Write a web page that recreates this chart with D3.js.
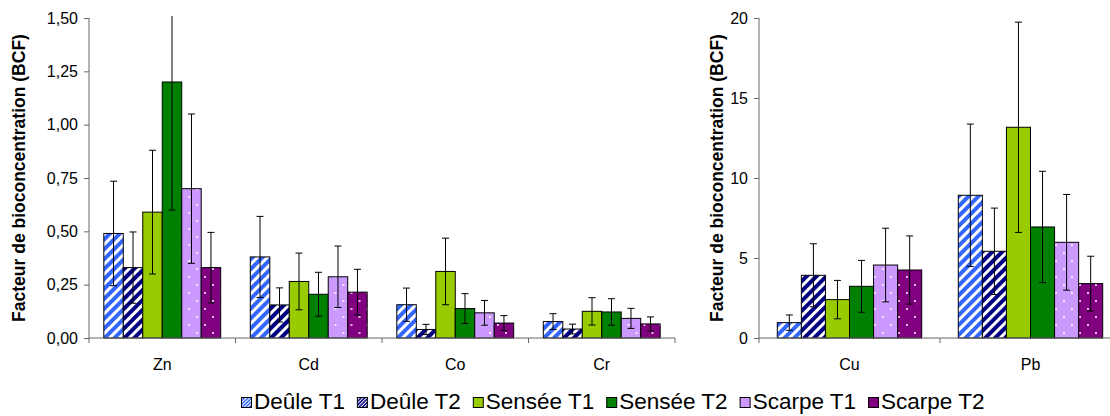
<!DOCTYPE html>
<html>
<head>
<meta charset="utf-8">
<script src="https://cdn.jsdelivr.net/npm/d3@7"></script>
<style>
  body { margin: 0; background: #fff; }
  svg { display: block; font-family: Arial, "Liberation Sans", sans-serif; }
  .axis path, .axis line { stroke: #666; }
  .axis text { font-size: 16px; fill: #000; font-family: Arial, "Liberation Sans", sans-serif; }
  .ytitle { font-size: 17.5px; font-weight: bold; }
  .cat { font-size: 16px; }
  .legend text { font-size: 22.5px; }
</style>
</head>
<body>
<svg id="chart" width="1110" height="416"></svg>
<script>
// series (same order in both panels)
const seriesNames = ["Deûle T1", "Deûle T2", "Sensée T1", "Sensée T2", "Scarpe T1", "Scarpe T2"];
const seriesFills = ["url(#stripeLight)", "url(#stripeDark)", "#99cc00", "#008000", "url(#dotLight)", "url(#dotDark)"];
const swatchFills = ["url(#smallLight)", "url(#smallDark)", "#99cc00", "#008000", "#cc99ff", "#800080"];

// left panel
const leftMetals = ["Zn", "Cd", "Co", "Cr"];
const leftMeans = [
  [0.49, 0.33, 0.59, 1.20, 0.70, 0.33],
  [0.38, 0.155, 0.265, 0.205, 0.287, 0.215],
  [0.156, 0.04, 0.312, 0.138, 0.118, 0.07],
  [0.077, 0.042, 0.125, 0.122, 0.092, 0.066]
];
const leftErrors = [
  [0.245, 0.167, 0.29, 0.60, 0.35, 0.165],
  [0.19, 0.08, 0.133, 0.103, 0.144, 0.107],
  [0.078, 0.024, 0.156, 0.07, 0.058, 0.035],
  [0.037, 0.023, 0.064, 0.062, 0.047, 0.033]
];
const leftTicks = [0, 0.25, 0.5, 0.75, 1, 1.25, 1.5];

// right panel
const rightMetals = ["Cu", "Pb"];
const rightMeans = [
  [0.96, 3.92, 2.40, 3.23, 4.56, 4.25],
  [8.92, 5.42, 13.17, 6.94, 5.98, 3.40]
];
const rightErrors = [
  [0.48, 1.97, 1.2, 1.62, 2.3, 2.13],
  [4.45, 2.7, 6.57, 3.48, 2.99, 1.71]
];
const rightTicks = [0, 5, 10, 15, 20];

const yTitle = "Facteur de bioconcentration (BCF)";

const svg = d3.select("#chart");
const defs = svg.append("defs");

function stripe(id, color, size, white) {
  const p = defs.append("pattern").attr("id", id)
      .attr("patternUnits", "userSpaceOnUse")
      .attr("width", size).attr("height", size)
      .attr("patternTransform", "rotate(45)");
  p.append("rect").attr("width", size).attr("height", size).attr("fill", color);
  p.append("rect").attr("width", white).attr("height", size).attr("fill", "#fff");
}
function dots(id, color) {
  const p = defs.append("pattern").attr("id", id)
      .attr("patternUnits", "userSpaceOnUse")
      .attr("width", 16).attr("height", 16);
  p.append("rect").attr("width", 16).attr("height", 16).attr("fill", color);
  p.append("circle").attr("cx", 4).attr("cy", 5).attr("r", 1).attr("fill", "#fff");
  p.append("circle").attr("cx", 12).attr("cy", 13).attr("r", 1).attr("fill", "#fff");
}
stripe("stripeLight", "#3366ff", 7, 3);
stripe("stripeDark", "#000080", 7, 3);
stripe("smallLight", "#3366ff", 2.5, 1);
stripe("smallDark", "#000080", 2.5, 1);
dots("dotLight", "#cc99ff");
dots("dotDark", "#800080");

function panel(opts) {
  const {metals, means, errors, ticks, domain, x0, x1, top, bottom, fmt, titleX} = opts;
  const g = svg.append("g");

  const x = d3.scaleBand().domain(metals).range([x0, x1]);
  const xs = d3.scaleBand().domain(seriesNames).range([0, x.bandwidth()]).paddingOuter(0.76);
  const y = d3.scaleLinear().domain(domain).range([bottom, top]);

  // y axis
  const ya = g.append("g").attr("class", "axis")
      .attr("transform", "translate(" + x0 + ",0)")
      .call(d3.axisLeft(y).tickValues(ticks).tickFormat(fmt).tickSize(5).tickSizeOuter(0).tickPadding(6));
  ya.select(".domain").attr("d", "M0," + bottom + "V" + top);

  // bars
  metals.forEach((m, i) => {
    const rows = seriesNames.map((s, j) => ({s: s, v: means[i][j], e: errors[i][j], fill: seriesFills[j]}));
    const grp = g.append("g").attr("transform", "translate(" + x(m) + ",0)");
    grp.selectAll("rect").data(rows).enter().append("rect")
        .attr("x", d => xs(d.s))
        .attr("y", d => y(d.v))
        .attr("width", xs.bandwidth())
        .attr("height", d => y(0) - y(d.v))
        .attr("fill", d => d.fill)
        .attr("stroke", "#000").attr("stroke-width", 1);

    const eb = grp.selectAll(".err").data(rows).enter().append("g").attr("class", "err")
        .attr("transform", d => "translate(" + (xs(d.s) + xs.bandwidth() / 2) + ",0)")
        .attr("stroke", "#000").attr("stroke-width", 1);
    eb.append("line")
        .attr("y1", d => d.v + d.e > domain[1] ? top - 2 : y(d.v + d.e))
        .attr("y2", d => y(d.v - d.e));
    eb.filter(d => d.v + d.e <= domain[1]).append("line")
        .attr("x1", -3.5).attr("x2", 3.5)
        .attr("y1", d => y(d.v + d.e)).attr("y2", d => y(d.v + d.e));
    eb.append("line")
        .attr("x1", -3.5).attr("x2", 3.5)
        .attr("y1", d => y(d.v - d.e)).attr("y2", d => y(d.v - d.e));
  });

  // x axis
  const xa = g.append("g").attr("class", "axis")
      .attr("transform", "translate(0," + bottom + ")");
  xa.append("line").attr("x1", x0).attr("x2", x1).attr("stroke", "#333");
  xa.selectAll(".sep").data(metals).enter().append("line")
      .attr("x1", d => x(d) + x.bandwidth()).attr("x2", d => x(d) + x.bandwidth())
      .attr("y1", 0).attr("y2", 5).attr("stroke", "#333");
  xa.append("line").attr("x1", x0).attr("x2", x0).attr("y1", 0).attr("y2", 5).attr("stroke", "#333");

  g.selectAll(".cat").data(metals).enter().append("text")
      .attr("class", "cat")
      .attr("x", d => x(d) + x.bandwidth() / 2)
      .attr("y", bottom + 32)
      .attr("text-anchor", "middle")
      .text(d => d);

  g.append("text").attr("class", "ytitle")
      .attr("transform", "translate(" + titleX + "," + ((top + bottom) / 2) + ") rotate(-90)")
      .attr("text-anchor", "middle")
      .attr("dy", "0.35em")
      .text(yTitle);
}

const comma = d => d3.format(".2f")(d).replace(".", ",");

panel({metals: leftMetals, means: leftMeans, errors: leftErrors, ticks: leftTicks,
       domain: [0, 1.5], x0: 89, x1: 675, top: 18, bottom: 338, fmt: comma, titleX: 19});
panel({metals: rightMetals, means: rightMeans, errors: rightErrors, ticks: rightTicks,
       domain: [0, 20], x0: 759, x1: 1121, top: 18, bottom: 338, fmt: d3.format("d"), titleX: 717});

// legend
const legend = svg.append("g").attr("class", "legend");
let lx = 241;
seriesNames.forEach((s, j) => {
  legend.append("rect").attr("x", lx + 0.5).attr("y", 397.5).attr("width", 10).attr("height", 10)
      .attr("fill", swatchFills[j]).attr("stroke", "#000");
  const t = legend.append("text").attr("x", lx + 13).attr("y", 409).text(s);
  lx += 13 + t.node().getComputedTextLength() + 12;
});
</script>
</body>
</html>
